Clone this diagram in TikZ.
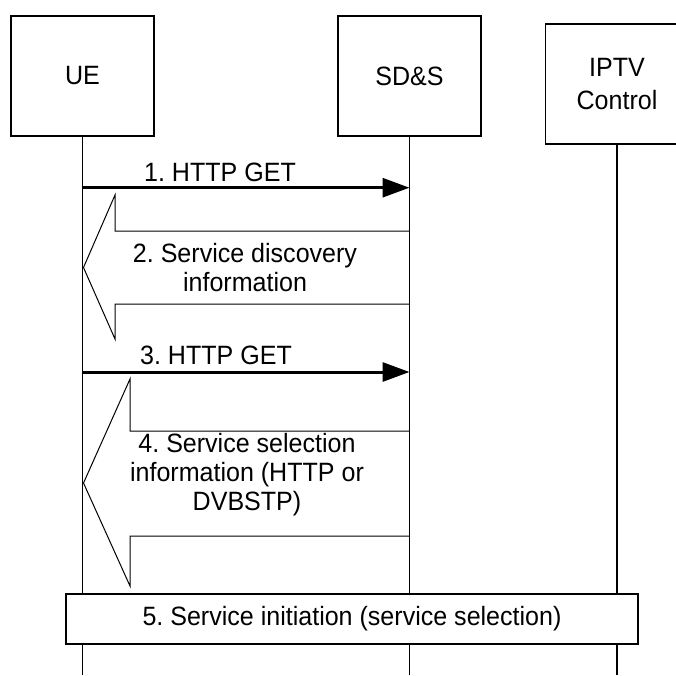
\documentclass[tikz,border=0pt]{standalone}
\usepackage{fontspec}
\setmainfont[FakeStretch=0.945]{Liberation Sans}
\usetikzlibrary{arrows.meta}
\frenchspacing
\begin{document}
\begin{tikzpicture}[x=1pt,y=-1pt,
  entity/.style={draw,line width=1.6pt,minimum width=143pt,minimum height=120pt,inner sep=0pt,align=center,font=\fontsize{26.5}{33}\selectfont},
  life/.style={line width=1.3pt},
  msg/.style={line width=3pt,-{Triangle[length=27pt,width=19pt]}},
  lbl/.style={inner sep=0pt,align=center,font=\fontsize{26.5}{29}\selectfont},
  blockarrow/.style={line width=1pt,line join=miter},
  procbox/.style={draw,fill=white,line width=1.6pt,minimum width=572pt,minimum height=50pt,inner sep=0pt,font=\fontsize{26.5}{29}\selectfont}]
\useasboundingbox (0,0) rectangle (676,675);
\clip (0,0) rectangle (676,675);
% entities
\node[entity] (ue) at (82.5,75.7) {UE};
\node[entity] (sds) at (409.5,76) {SD\&S};
\node[entity] (iptv) at (617,84) {IPTV\\Control};
% lifeline ends
\coordinate (ueEnd) at (82.5,675);
\coordinate (sdsEnd) at (409.5,675);
\coordinate (iptvEnd) at (617,675);
\draw[life] (ue.south) -- (ueEnd);
\draw[life] (sds.south) -- (sdsEnd);
\draw[life] (iptv.south) -- (iptvEnd);
% message 1
\coordinate (m1a) at (82.5,187.7);
\coordinate (m1b) at (409.5,187.7);
\draw[msg] (m1a) -- (m1b);
\node[lbl] (t1) at (220,172) {1. HTTP GET};
% message 2 (block arrow)
\draw[blockarrow] (409.5,231) -- (115,231) -- (115,195) -- (83.5,267.5) -- (115,339) -- (115,304) -- (409.5,304);
\node[lbl] (t2) at (245,267.5) {2. Service discovery\\information};
% message 3
\coordinate (m3a) at (82.5,372);
\coordinate (m3b) at (409.5,372);
\draw[msg] (m3a) -- (m3b);
\node[lbl] (t3) at (216,355) {3. HTTP GET};
% message 4 (block arrow)
\draw[blockarrow] (409.5,431) -- (130,431) -- (130,379) -- (83.5,483) -- (130,586) -- (130,536) -- (409.5,536);
\node[lbl] (t4) at (247,475) {4. Service selection\\information (HTTP or\\DVBSTP)};
% procedure 5
\node[procbox] (p5) at (352,618.7) {5. Service initiation (service selection)};
\end{tikzpicture}
\end{document}
